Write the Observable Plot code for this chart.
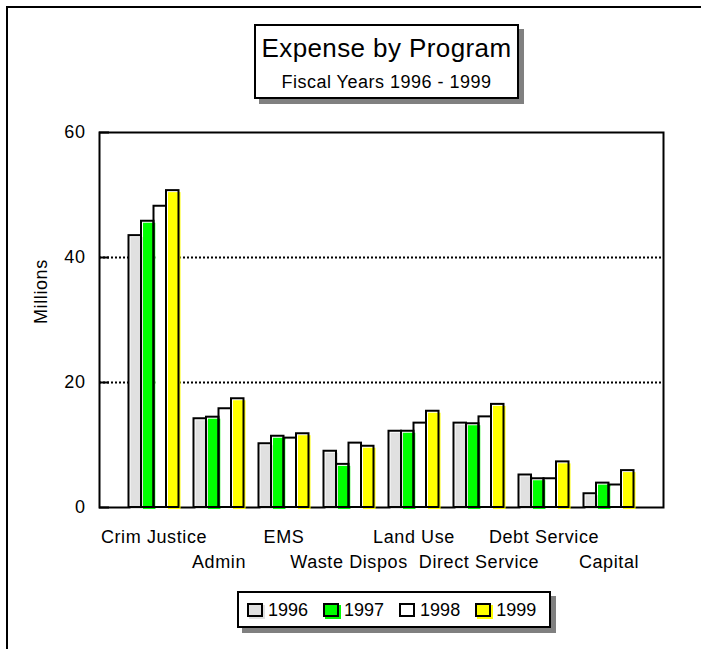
<!DOCTYPE html>
<html>
<head>
<meta charset="utf-8">
<script src="https://cdn.jsdelivr.net/npm/d3@7"></script>
<script src="https://cdn.jsdelivr.net/npm/@observablehq/plot@0.6"></script>
<style>
  body { margin: 0; background: #fff; font-family: "Liberation Sans", Arial, sans-serif; color: #000; }
  #wrap { position: relative; width: 701px; height: 649px; overflow: hidden; background: #fff; }
  #border { position: absolute; left: 6px; top: 6px; width: 720px; height: 700px; border-top: 2px solid #000; border-left: 2px solid #000; }
  #titlebox { position: absolute; left: 254px; top: 24px; width: 261px; height: 71px; border: 2px solid #000; background: #fff; box-shadow: 5px 5px 0 #808080; }
  #titlebox .t1 { position: absolute; left: 0; right: 0; top: 9px; text-align: center; font-size: 26px; line-height: 26px; letter-spacing: 0.4px; white-space: nowrap; }
  #titlebox .t2 { position: absolute; left: 0; right: 0; top: 47px; text-align: center; font-size: 18px; line-height: 18px; letter-spacing: 0.5px; white-space: nowrap; }
  #chart { position: absolute; left: 0; top: 110px; }
  #legend { position: absolute; left: 237px; top: 591px; width: 302px; height: 33px; border: 2px solid #000; background: #fff; box-shadow: 5px 5px 0 #808080; display: flex; align-items: center; padding-left: 8px; box-sizing: content-box; }
  #legend .item { display: flex; align-items: center; margin-right: 15px; }
  #legend .sw { display: inline-block; width: 12px; height: 10px; border: 2px solid #000; }
  #legend .lab { margin-left: 5px; font-size: 18px; line-height: 18px; }
</style>
</head>
<body>
<div id="wrap">
  <div id="border"></div>
  <div id="titlebox"><div class="t1">Expense by Program</div><div class="t2">Fiscal Years 1996 - 1999</div></div>
  <div id="chart"></div>
  <div id="legend"></div>
</div>
<script>
const categories = ["Crim Justice", "Admin", "EMS", "Waste Dispos", "Land Use", "Direct Service", "Debt Service", "Capital"];
const years = ["1996", "1997", "1998", "1999"];
const colors = ["#e0e0e0", "#00ff00", "#ffffff", "#ffff00"];
const v1996 = [43.5, 14.2, 10.2, 9.0, 12.2, 13.5, 5.2, 2.2];
const v1997 = [45.8, 14.45, 11.4, 6.9, 12.2, 13.4, 4.6, 3.9];
const v1998 = [48.2, 15.8, 11.1, 10.3, 13.5, 14.5, 4.6, 3.6];
const v1999 = [50.7, 17.4, 11.8, 9.8, 15.4, 16.5, 7.3, 5.9];
const yTicks = [0, 20, 40, 60];
const gridValues = [20, 40];
const yLabel = "Millions";

const series = [v1996, v1997, v1998, v1999];
const data = years.flatMap((yr, j) => categories.map((c, i) => ({category: c, year: yr, value: series[j][i]})));

const step = 65, groupPad = 7.5, barW = 12.5;
const fillMarks = years.map((yr, j) => Plot.barY(data.filter(d => d.year === yr), {
  x: "category", y: "value", fill: "year",
  insetLeft: groupPad + barW * j, insetRight: step - groupPad - barW * (j + 1),
  dx: 2, dy: 2
}));
const outlineMarks = years.map((yr, j) => Plot.barY(data.filter(d => d.year === yr), {
  x: "category", y: "value", fill: "none", stroke: "#000", strokeWidth: 2,
  insetLeft: groupPad + barW * j, insetRight: step - groupPad - barW * (j + 1)
}));

const chart = Plot.plot({
  width: 701,
  height: 470,
  marginTop: 22,
  marginBottom: 73,
  marginLeft: 99,
  marginRight: 38,
  style: {fontFamily: '"Liberation Sans", Arial, sans-serif', fontSize: "18px", letterSpacing: "0.6px", color: "#000", background: "transparent", overflow: "visible"},
  x: {domain: categories, range: [121, 641], padding: 0, label: null},
  y: {domain: [0, 60], label: null},
  color: {domain: years, range: colors},
  marks: [
    Plot.ruleY(gridValues, {stroke: "#000", strokeWidth: 2, strokeDasharray: "2,2"}),
    Plot.ruleY(yTicks, {stroke: "#000", strokeWidth: 2, insetRight: 564 - 10}),
    Plot.frame({stroke: "#000", strokeWidth: 2}),
    ...fillMarks,
    ...outlineMarks,
    Plot.axisY({ticks: yTicks, tickSize: 0, tickPadding: 14, label: null}),
    Plot.axisX({tickSize: 0, tickPadding: 23, label: null, tickFormat: d => categories.indexOf(d) % 2 === 0 ? d : ""}),
    Plot.axisX({tickSize: 0, tickPadding: 48, label: null, tickFormat: d => categories.indexOf(d) % 2 === 1 ? d : ""}),
    Plot.text([yLabel], {text: d => d, frameAnchor: "left", dx: -58, dy: 4, rotate: -90, fontSize: 18})
  ]
});
document.getElementById("chart").appendChild(chart);

const legend = document.getElementById("legend");
years.forEach((yr, j) => {
  const item = document.createElement("div");
  item.className = "item";
  const sw = document.createElement("span");
  sw.className = "sw";
  sw.style.background = colors[j];
  sw.style.boxShadow = `2px 2px 0 ${colors[j]}`;
  const lab = document.createElement("span");
  lab.className = "lab";
  lab.textContent = yr;
  item.appendChild(sw);
  item.appendChild(lab);
  legend.appendChild(item);
});
</script>
</body>
</html>
